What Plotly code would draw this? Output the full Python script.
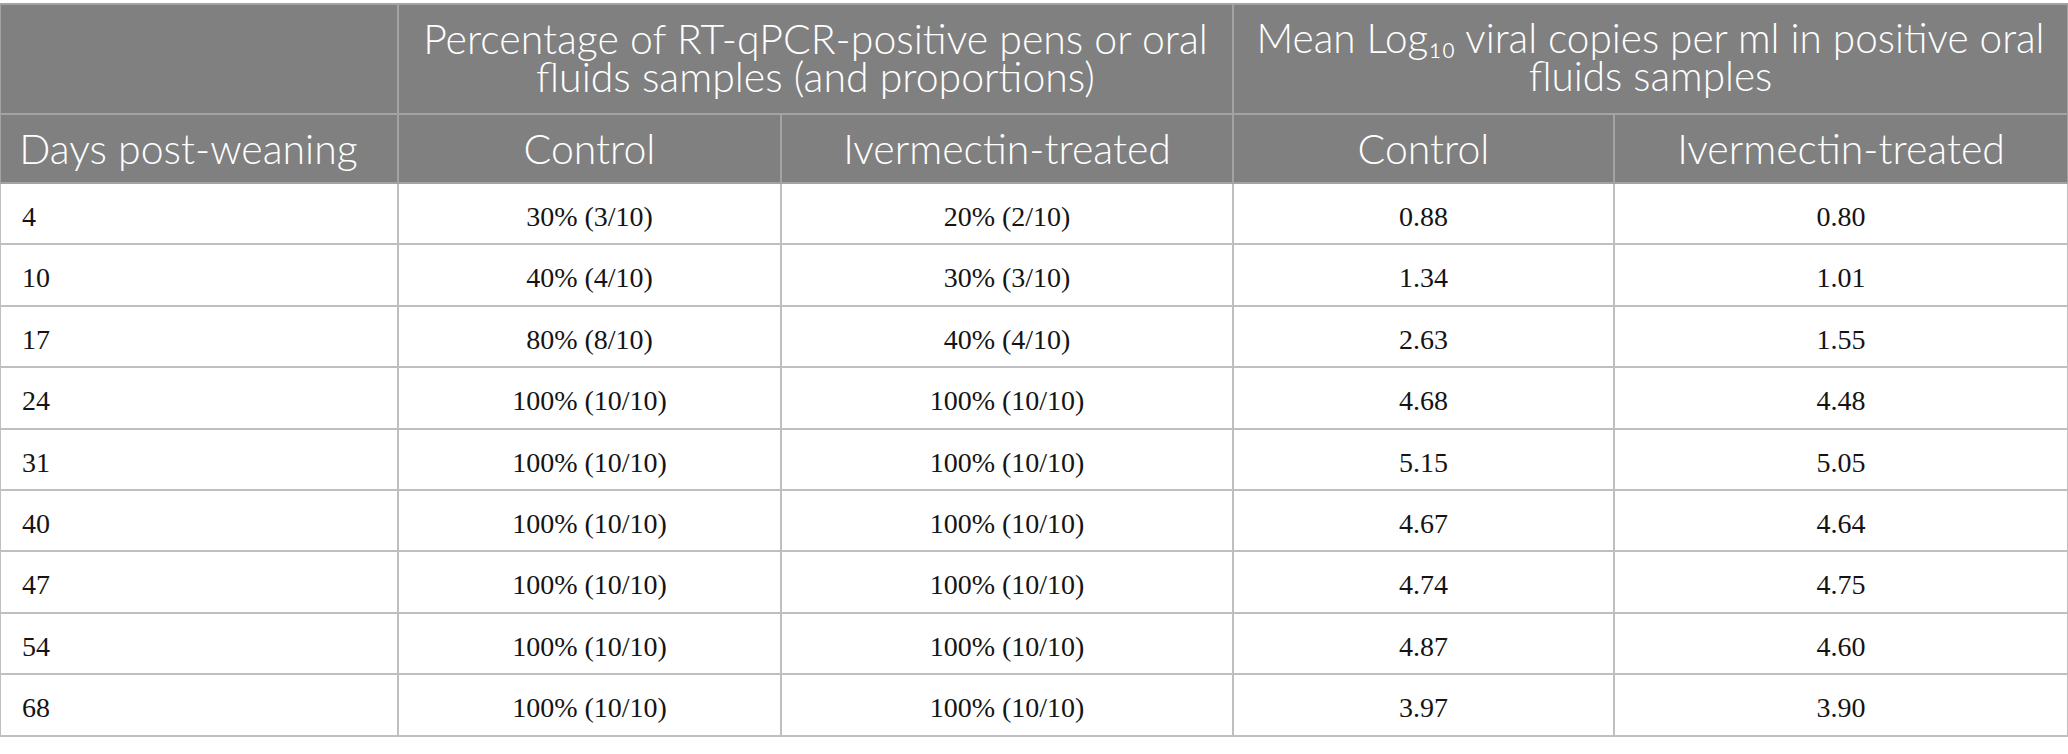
import plotly.graph_objects as go

days = [4, 10, 17, 24, 31, 40, 47, 54, 68]
control_pos = [3, 4, 8, 10, 10, 10, 10, 10, 10]
ivermectin_pos = [2, 3, 4, 10, 10, 10, 10, 10, 10]
pens_total = 10
control_log = [0.88, 1.34, 2.63, 4.68, 5.15, 4.67, 4.74, 4.87, 3.97]
ivermectin_log = [0.80, 1.01, 1.55, 4.48, 5.05, 4.64, 4.75, 4.60, 3.90]

group_line1 = ["", "Percentage of RT-qPCR-positive pens or oral",
               "Mean Log\u2081\u2080 viral copies per ml in positive oral"]
group_line2 = ["", "fluids samples (and proportions)", "fluids samples"]
sub_titles = ["Days post-weaning", "Control", "Ivermectin-treated", "Control", "Ivermectin-treated"]

W, H = 2068, 754
col_w = [398, 383, 452, 381, 454]
group_w = [col_w[0], col_w[1] + col_w[2], col_w[3] + col_w[4]]
header_fill = "#7f807f"
header_line = "#a3a3a3"
body_line = "#bfbfbf"
clear = "rgba(0,0,0,0)"
head_font = dict(family="Lato", size=41, color="white", weight=300)
group_font = dict(family="Lato", size=[41, 41, 40.5], color="white", weight=300)
body_font = dict(family="Liberation Serif", size=28, color="#141414")
pad = "\u00a0" * 2
blank = "\u00a0"
aligns = ["left", "center", "center", "center", "center"]


def pct(n):
    return f"{round(100 * n / pens_total)}% ({n}/{pens_total})"


def top(px):
    # table domain from a pixel offset measured from the top edge
    return dict(x=[0, 1], y=[0, 1 - px / H])


body = [
    [pad + str(d) for d in days],
    [pct(n) for n in control_pos],
    [pct(n) for n in ivermectin_pos],
    [f"{v:.2f}" for v in control_log],
    [f"{v:.2f}" for v in ivermectin_log],
]

fig = go.Figure()

# grid: grouped header row
fig.add_trace(go.Table(
    domain=top(4),
    columnwidth=group_w,
    header=dict(values=[blank] * 3, fill_color=header_fill,
                line=dict(color=header_line, width=2), height=110),
    cells=dict(values=[[]] * 3),
))

# grid: sub header + body rows
fig.add_trace(go.Table(
    domain=top(114),
    columnwidth=col_w,
    header=dict(values=[blank] * 5, fill_color=header_fill,
                line=dict(color=header_line, width=2), height=69),
    cells=dict(values=[[blank] * len(days)] * 5, fill_color="white",
               line=dict(color=body_line, width=2), height=61.4),
))

# text layers (transparent) so each line can sit where the reference has it
for line, y0 in [(group_line1, 15), (group_line2, 53)]:
    fig.add_trace(go.Table(
        domain=top(y0),
        columnwidth=group_w,
        header=dict(values=line, fill_color=clear, line=dict(width=0),
                    align="center", font=group_font, height=40),
        cells=dict(values=[[]] * 3),
    ))

fig.add_trace(go.Table(
    domain=top(125),
    columnwidth=col_w,
    header=dict(values=[blank + sub_titles[0]] + sub_titles[1:], fill_color=clear,
                line=dict(width=0), align=aligns, font=head_font, height=72),
    cells=dict(values=body, fill_color=clear, line=dict(width=0),
               align=aligns, font=body_font, height=61.4),
))

fig.update_layout(
    width=W, height=H,
    margin=dict(l=0, r=0, t=0, b=0),
    paper_bgcolor="white",
)

fig.write_html("out.html", config={"displayModeBar": False},
               post_script="document.body.style.margin = '0';")
